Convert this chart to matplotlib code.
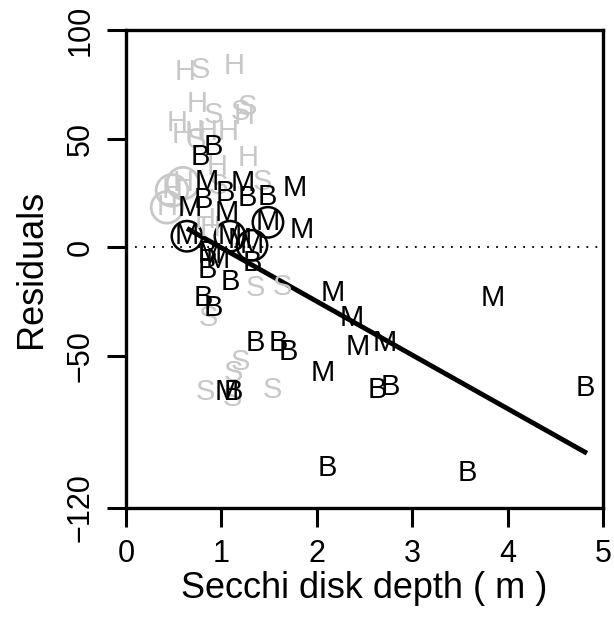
import matplotlib
matplotlib.use("Agg")
import matplotlib.pyplot as plt

plt.rcParams['font.family'] = ['Liberation Sans', 'DejaVu Sans']

# Secchi depth (m) and residuals, coded by group letter
h_x = [0.618, 1.132, 0.744, 1.237, 0.535, 0.587, 0.723, 0.849, 1.069, 1.279,
       0.954, 0.597, 0.482, 0.430, 0.828, 0.880]
h_y = [80.5, 83.3, 65.8, 60.3, 57.1, 51.5, 52.5, 52.9, 52.9, 41.0,
       36.8, 29.5, 26.2, 18.4, 12.4, 8.7]
h_circled = [0.597, 0.482, 0.430]
h_circled_y = [29.5, 26.2, 18.4]

s_x = [0.776, 0.912, 1.195, 1.268, 0.734, 0.964, 1.426, 1.352, 1.635, 0.860,
       1.195, 1.122, 0.828, 1.111, 1.530]
s_y = [81.5, 60.7, 62.1, 64.4, 49.2, 28.1, 29.9, -18.9, -18.4, -32.7,
       -52.9, -58.0, -66.7, -69.5, -65.8]

b_x = [0.912, 0.776, 1.038, 1.268, 1.478, 0.807, 0.849, 1.321, 0.849, 1.090,
       0.807, 0.912, 1.352, 1.593, 1.698, 1.122, 2.631, 2.767, 4.811, 2.107,
       3.574]
b_y = [46.0, 41.4, 24.9, 22.5, 23.0, 21.6, -2.8, -7.4, -10.6, -16.1,
       -23.5, -28.1, -44.2, -44.2, -48.3, -66.7, -65.8, -64.4, -64.9, -101.7,
       -104.0]

m_x = [0.849, 1.226, 1.771, 0.671, 1.059, 1.845, 1.488, 0.639, 1.090, 1.195,
       1.321, 0.880, 0.964, 2.170, 2.369, 2.432, 2.715, 2.065, 3.847, 1.059]
m_y = [29.9, 29.5, 27.2, 17.9, 15.6, 7.8, 11.5, 5.1, 5.1, 3.2,
       0.9, -3.7, -6.0, -21.2, -32.7, -46.0, -44.2, -58.0, -23.5, -66.7]
m_circled = [1.488, 0.639, 1.090, 1.321]
m_circled_y = [11.5, 5.1, 5.1, 0.9]

# fitted line through the M/B residuals
fit_x = [0.639, 4.832]
fit_y = [8.7, -94.8]

y_ticks = [100, 50, 0, -50, -120]
x_ticks = [0, 1, 2, 3, 4, 5]

grey = '#c8c8c8'
letter_size = 21

fig = plt.figure(figsize=(6.14, 6.26), dpi=100)
ax = fig.add_axes([0.2052, 0.1885, 0.7768, 0.7635])

ax.axhline(0, color='black', linestyle=(0, (1, 4)), lw=1.3)

for x, y in zip(h_x, h_y):
    ax.text(x, y, 'H', color=grey, fontsize=letter_size, ha='center', va='center')
for x, y in zip(s_x, s_y):
    ax.text(x, y, 'S', color=grey, fontsize=letter_size, ha='center', va='center')
ax.scatter(h_circled, h_circled_y, s=520, facecolors='none', edgecolors=grey, linewidths=2)

for x, y in zip(b_x, b_y):
    ax.text(x, y, 'B', color='black', fontsize=letter_size, ha='center', va='center')
for x, y in zip(m_x, m_y):
    ax.text(x, y, 'M', color='black', fontsize=letter_size, ha='center', va='center')
ax.scatter(m_circled, m_circled_y, s=480, facecolors='none', edgecolors='black', linewidths=1.8)

ax.plot(fit_x, fit_y, color='black', lw=3.5, solid_capstyle='butt')

ax.set_xlim(0, 5)
ax.set_ylim(-120, 100)
ax.set_xticks(x_ticks)
ax.set_yticks(y_ticks)
ax.set_yticklabels([str(v).replace('-', '\u2212') for v in y_ticks], rotation=90, va='center')
ax.tick_params(direction='out', length=14, width=2.2, labelsize=22, pad=8)
for sp in ax.spines.values():
    sp.set_linewidth(2.4)

ax.set_xlabel('Secchi disk depth ( m )', fontsize=26, labelpad=2)
ax.set_ylabel('Residuals', fontsize=26, labelpad=12)

fig.savefig('out.png', dpi=100)
